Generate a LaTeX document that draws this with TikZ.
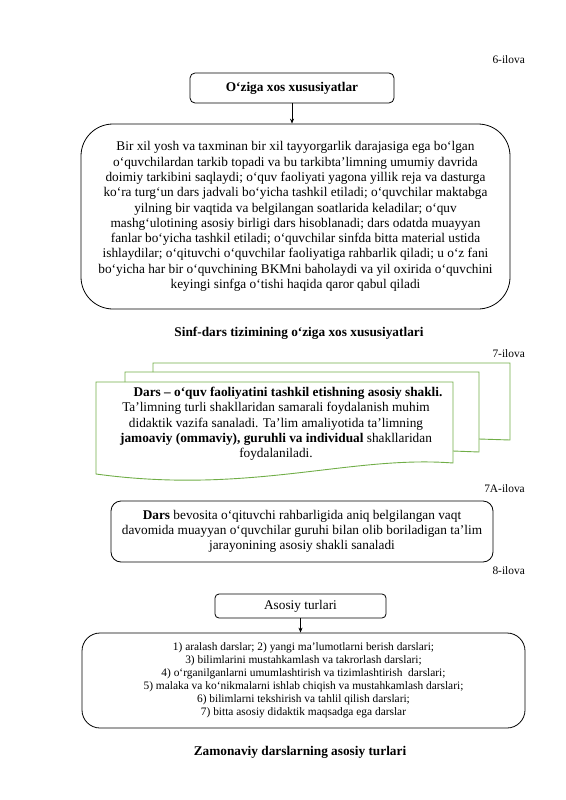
\documentclass[tikz,border=0pt]{standalone}
\usepackage{fontspec}
\setmainfont{Liberation Serif}
\usetikzlibrary{arrows.meta}
\definecolor{docgreen}{RGB}{112,173,71}
\tikzset{
  box/.style={draw=black, line width=0.8pt, align=center, inner sep=0pt},
  bigtext/.style={font=\fontsize{13.3}{15.3}\selectfont},
  bigbold/.style={font=\fontsize{13.3}{15.3}\selectfont\bfseries},
  smalltext/.style={font=\fontsize{11.4}{13.1}\selectfont},
  note/.style={font=\fontsize{11.4}{13}\selectfont, anchor=east, inner sep=0pt},
  arr/.style={-{Stealth[length=5pt,width=4pt]}, line width=0.8pt},
  greenline/.style={draw=docgreen, line width=0.9pt},
}
\begin{document}
\begin{tikzpicture}[x=1pt,y=-1pt]
\useasboundingbox (0,0) rectangle (565,800);

% ---- 6-ilova ----
\node[note] (n6) at (525,60) {6-ilova};
\node[box, bigbold, rounded corners=5pt, minimum width=204pt, minimum height=30pt] (t1) at (292,88) {O‘ziga xos xususiyatlar};
\node[box, bigtext, rounded corners=32pt, minimum width=429pt, minimum height=185pt] (b1) at (295.5,216.5)
{Bir xil yosh va taxminan bir xil tayyorgarlik darajasiga ega bo‘lgan\\
o‘quvchilardan tarkib topadi va bu tarkibta’limning umumiy davrida\\
doimiy tarkibini saqlaydi; o‘quv faoliyati yagona yillik reja va dasturga\\
ko‘ra turg‘un dars jadvali bo‘yicha tashkil etiladi; o‘quvchilar maktabga\\
yilning bir vaqtida va belgilangan soatlarida keladilar; o‘quv\\
mashg‘ulotining asosiy birligi dars hisoblanadi; dars odatda muayyan\\
fanlar bo‘yicha tashkil etiladi; o‘quvchilar sinfda bitta material ustida\\
ishlaydilar; o‘qituvchi o‘quvchilar faoliyatiga rahbarlik qiladi; u o‘z fani\\
bo‘yicha har bir o‘quvchining BKMni baholaydi va yil oxirida o‘quvchini\\
keyingi sinfga o‘tishi haqida qaror qabul qiladi};
\draw[arr] (t1.south) -- (t1.south |- b1.north);
\node[bigbold] (c1) at (299,333) {Sinf-dars tizimining o‘ziga xos xususiyatlari};

% ---- 7-ilova ----
\node[note] (n7) at (525,354) {7-ilova};
\draw[greenline] (153,372) -- (153,363) -- (510,363) -- (510,440) -- (479,439);
\draw[greenline] (125,382) -- (125,372) -- (479,372) -- (479,452) -- (453,451);
\draw[greenline] (96,382) -- (453,382) -- (453,463) .. controls (350,455) and (250,495) .. (96,474) -- cycle;
\node[bigtext, align=center, inner sep=0pt] (g) at (276,424)
{\hspace*{24pt}\textbf{Dars – o‘quv faoliyatini tashkil etishning asosiy shakli.}\\
Ta’limning turli shakllaridan samarali foydalanish muhim\\
didaktik vazifa sanaladi. Ta’lim amaliyotida ta’limning\\
\textbf{jamoaviy (ommaviy), guruhli va individual} shakllaridan\\
foydalaniladi.};

% ---- 7A-ilova ----
\node[note] (n7a) at (525,489) {7A-ilova};
\node[box, bigtext, rounded corners=10pt, minimum width=382pt, minimum height=61pt] (b2) at (302,531.5)
{\textbf{Dars} bevosita o‘qituvchi rahbarligida aniq belgilangan vaqt\\
davomida muayyan o‘quvchilar guruhi bilan olib boriladigan ta’lim\\
jarayonining asosiy shakli sanaladi};

% ---- 8-ilova ----
\node[note] (n8) at (525,571) {8-ilova};
\node[box, bigtext, rounded corners=4pt, minimum width=171pt, minimum height=24pt] (t3) at (300.5,606) {Asosiy turlari};
\node[box, smalltext, rounded corners=18pt, minimum width=443pt, minimum height=95pt] (b3) at (303.5,680.5)
{1) aralash darslar; 2) yangi ma’lumotlarni berish darslari;\\
3) bilimlarini mustahkamlash va takrorlash darslari;\\
4) o‘rganilganlarni umumlashtirish va tizimlashtirish\ \ darslari;\\
5) malaka va ko‘nikmalarni ishlab chiqish va mustahkamlash darslari;\\
6) bilimlarni tekshirish va tahlil qilish darslari;\\
7) bitta asosiy didaktik maqsadga ega darslar};
\draw[arr] (t3.south) -- (t3.south |- b3.north);
\node[bigbold] (c3) at (300,752) {Zamonaviy darslarning asosiy turlari};
\end{tikzpicture}
\end{document}
